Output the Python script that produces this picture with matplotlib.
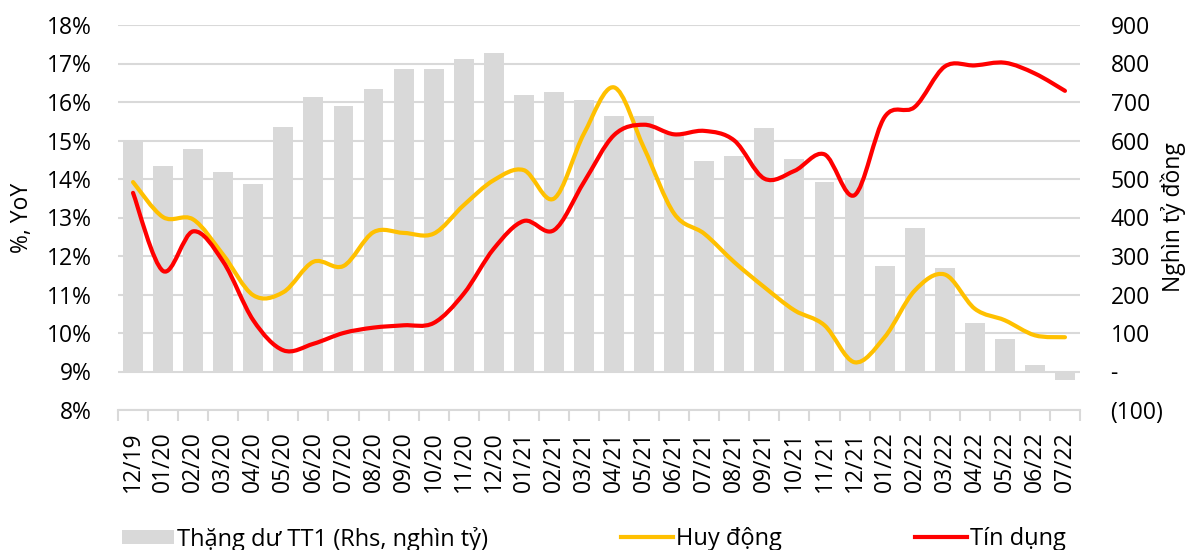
import matplotlib
matplotlib.use("Agg")
import matplotlib.pyplot as plt
import numpy as np
from matplotlib.path import Path
from matplotlib.patches import PathPatch, Patch
from matplotlib.lines import Line2D

plt.rcParams['font.family'] = ['Open Sans', 'DejaVu Sans']

categories = ['12/19', '01/20', '02/20', '03/20', '04/20', '05/20', '06/20', '07/20',
              '08/20', '09/20', '10/20', '11/20', '12/20', '01/21', '02/21', '03/21',
              '04/21', '05/21', '06/21', '07/21', '08/21', '09/21', '10/21', '11/21',
              '12/21', '01/22', '02/22', '03/22', '04/22', '05/22', '06/22', '07/22']

# Thặng dư TT1 (nghìn tỷ) - right axis
surplus = [600, 534, 578, 517, 486, 635, 714, 689, 734, 787, 787, 811, 827,
           719, 725, 705, 663, 663, 618, 548, 559, 632, 551, 492, 500,
           275, 374, 270, 127, 85, 17, -22]

# Huy động (% YoY)
huy_dong = [13.92, 13.01, 12.95, 12.03, 10.98, 11.06, 11.85, 11.74, 12.62, 12.60, 12.58, 13.32, 13.97,
            14.23, 13.49, 15.18, 16.38, 14.80, 13.10, 12.58, 11.84, 11.19, 10.59, 10.20, 9.24,
            9.89, 11.10, 11.52, 10.63, 10.33, 9.94, 9.89]

# Tín dụng (% YoY)
tin_dung = [13.64, 11.61, 12.64, 11.85, 10.33, 9.55, 9.72, 10.00, 10.14, 10.20, 10.26, 11.02, 12.19,
            12.91, 12.67, 13.92, 15.14, 15.41, 15.16, 15.25, 15.00, 14.01, 14.21, 14.64, 13.58,
            15.61, 15.87, 16.92, 16.95, 17.02, 16.74, 16.29]

left_ticks = list(range(8, 19))
left_labels = [f"{t}%" for t in left_ticks]
right_ticks = list(range(-100, 1000, 100))
right_labels = ['(100)', '-'] + [str(t) for t in right_ticks[2:]]

GRID = '#d9d9d9'
BAR = '#d9d9d9'
YELLOW = '#ffc000'
RED = '#ff0000'
FS = 16.5

W, H = 1189, 550
fig = plt.figure(figsize=(W / 100, H / 100), dpi=100)
ax = fig.add_axes([118 / W, 1 - 410 / H, (1080 - 118) / W, (410 - 25) / H])
ax2 = ax.twinx()

x = np.arange(len(categories))

# bars on right axis
ax2.bar(x, surplus, width=0.66, color=BAR, zorder=2)
ax2.set_ylim(-100, 900)
ax2.set_yticks(right_ticks)
ax2.set_yticklabels(right_labels)
ax2.set_axisbelow(True)
ax2.yaxis.grid(True, color=GRID, linewidth=1.5)
ax2.tick_params(axis='y', length=0, pad=22, labelsize=FS)

# smooth lines on left axis
def smooth_path(xs, ys):
    P = np.column_stack([xs, ys]).astype(float)
    n = len(P)
    verts = [P[0]]
    codes = [Path.MOVETO]
    for i in range(n - 1):
        p0 = P[max(i - 1, 0)]
        p3 = P[min(i + 2, n - 1)]
        c1 = P[i] + (P[i + 1] - p0) / 6.0
        c2 = P[i + 1] - (p3 - P[i]) / 6.0
        verts += [c1, c2, P[i + 1]]
        codes += [Path.CURVE4] * 3
    return Path(verts, codes)

ax.set_zorder(ax2.get_zorder() + 1)
ax.patch.set_visible(False)
ax.add_patch(PathPatch(smooth_path(x, huy_dong), fill=False, edgecolor=YELLOW,
                       linewidth=3.0, capstyle='round', joinstyle='round'))
ax.add_patch(PathPatch(smooth_path(x, tin_dung), fill=False, edgecolor=RED,
                       linewidth=3.0, capstyle='round', joinstyle='round'))

ax.set_ylim(8, 18)
ax.set_yticks(left_ticks)
ax.set_yticklabels(left_labels)
ax.tick_params(axis='y', length=0, pad=19, labelsize=FS)
ax.set_xlim(-0.5, len(categories) - 0.5)
ax.set_xticks(x)
ax.set_xticklabels(categories, rotation=90)
ax.set_xticks(np.arange(-0.5, len(categories), 1.0), minor=True)
ax.tick_params(axis='x', which='major', length=0, pad=15.5, labelsize=FS)
ax.tick_params(axis='x', which='minor', length=8, width=1.5, color=GRID, direction='out')

for a in (ax, ax2):
    for s in ('top', 'left', 'right'):
        a.spines[s].set_visible(False)
ax2.spines['bottom'].set_visible(False)
ax.spines['bottom'].set_color(GRID)
ax.spines['bottom'].set_linewidth(1.5)

fig.text(22 / W, 1 - 218 / H, '%, YoY', rotation=90, ha='center', va='center', fontsize=FS)
fig.text(1173 / W, 1 - 217 / H, 'Nghìn tỷ đồng', rotation=90, ha='center', va='center', fontsize=FS)

# legend (three separate entries placed like the reference)
LFS = 17
legend_items = [
    (Patch(facecolor=BAR, edgecolor='none'), 'Thặng dư TT1 (Rhs, nghìn tỷ)', 122),
    (Line2D([], [], color=YELLOW, linewidth=3.0), 'Huy động', 621),
    (Line2D([], [], color=RED, linewidth=3.0), 'Tín dụng', 915),
]
for h, lab, xpos in legend_items:
    fig.legend([h], [lab], loc='center left', bbox_to_anchor=(xpos / W, 1 - 539 / H),
               frameon=False, fontsize=LFS, handlelength=2.2, handleheight=0.5,
               handletextpad=0.15, borderpad=0, borderaxespad=0)

fig.savefig('out.png', dpi=100)
